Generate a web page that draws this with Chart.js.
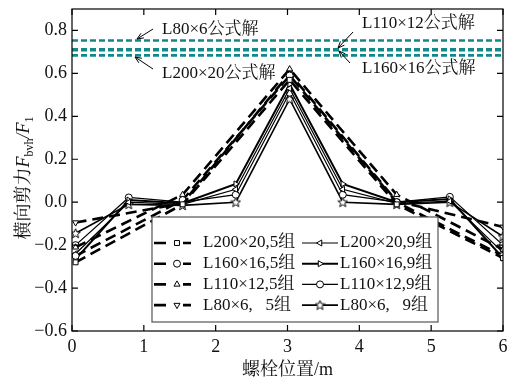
<!DOCTYPE html>
<html>
<head>
<meta charset="utf-8">
<script src="https://cdn.jsdelivr.net/npm/chart.js@4.4.0/dist/chart.umd.min.js"></script>
<style>
  html, body { margin: 0; padding: 0; background: #fff; }
  #wrap { width: 508px; height: 380px; position: relative; }
</style>
</head>
<body>
<div id="wrap"><canvas id="chart"></canvas></div>
<script>
// bolt positions (m)
const xs9 = [0.05, 0.79, 1.54, 2.28, 3.03, 3.77, 4.52, 5.26, 6.0];
const xs5 = [0.05, 1.54, 3.03, 4.52, 6.0];

// 5 groups (dashed)
const l200x20_5 = [-0.28, -0.01, 0.57, -0.01, -0.26];
const l160x16_5 = [-0.25, 0.01, 0.59, 0.0, -0.25];
const l110x12_5 = [-0.21, 0.035, 0.62, 0.035, -0.22];
const l80x6_5 = [-0.095, -0.005, 0.60, 0.005, -0.115];

// 9 groups (solid)
const l200x20_9 = [-0.24, 0.0, -0.01, 0.06, 0.53, 0.06, -0.005, 0.005, -0.235];
const l160x16_9 = [-0.265, 0.01, -0.005, 0.085, 0.55, 0.085, 0.0, 0.015, -0.26];
const l110x12_9 = [-0.2, 0.022, 0.0, 0.035, 0.51, 0.035, 0.0, 0.025, -0.2];
const l80x6_9 = [-0.145, -0.01, -0.015, 0.0, 0.48, 0.0, -0.01, 0.0, -0.16];

// formula solutions (horizontal lines)
const formulaNames = ['L80×6公式解', 'L110×12公式解', 'L160×16公式解', 'L200×20公式解'];
const formulaValues = [0.753, 0.712, 0.708, 0.684];

const xTicks = [0, 1, 2, 3, 4, 5, 6];
const yTicks = [-0.6, -0.4, -0.2, 0.0, 0.2, 0.4, 0.6, 0.8];

const FONT = "'Liberation Serif', 'Noto Serif CJK SC', 'Noto Sans CJK SC', serif";
Chart.defaults.font.family = FONT;
Chart.defaults.color = '#111';

// star marker
const starImg = document.createElement('canvas');
starImg.width = 11; starImg.height = 11;
(function () {
  const c = starImg.getContext('2d');
  c.beginPath();
  for (let i = 0; i < 10; i++) {
    const r = i % 2 === 0 ? 5 : 2.2;
    const a = -Math.PI / 2 + i * Math.PI / 5;
    const px = 5.5 + r * Math.cos(a), py = 5.8 + r * Math.sin(a);
    if (i === 0) c.moveTo(px, py); else c.lineTo(px, py);
  }
  c.closePath();
  c.fillStyle = '#fff'; c.fill();
  c.strokeStyle = '#000'; c.lineWidth = 1; c.stroke();
})();

const pts = (xs, ys) => xs.map((x, i) => ({ x: x, y: ys[i] }));

const series = [
  { label: 'L200×20,5组', xs: xs5, ys: l200x20_5, dash: true, width: 2.6, style: 'rect', rot: 0 },
  { label: 'L160×16,5组', xs: xs5, ys: l160x16_5, dash: true, width: 2.6, style: 'circle', rot: 0 },
  { label: 'L110×12,5组', xs: xs5, ys: l110x12_5, dash: true, width: 2.6, style: 'triangle', rot: 0 },
  { label: 'L80×6,   5组', xs: xs5, ys: l80x6_5, dash: true, width: 2.6, style: 'triangle', rot: 180 },
  { label: 'L200×20,9组', xs: xs9, ys: l200x20_9, dash: false, width: 1.2, style: 'triangle', rot: -90 },
  { label: 'L160×16,9组', xs: xs9, ys: l160x16_9, dash: false, width: 2.0, style: 'triangle', rot: 90 },
  { label: 'L110×12,9组', xs: xs9, ys: l110x12_9, dash: false, width: 1.2, style: 'circle', rot: 0 },
  { label: 'L80×6,   9组', xs: xs9, ys: l80x6_9, dash: false, width: 1.6, style: starImg, rot: 0 }
];

const datasets = [];
formulaValues.forEach((v, i) => {
  datasets.push({
    label: formulaNames[i],
    data: [{ x: 0, y: v }, { x: 6, y: v }],
    showLine: true,
    borderColor: '#11898a',
    borderWidth: 2.6,
    borderDash: [6, 3],
    pointRadius: 0
  });
});
series.forEach(s => {
  datasets.push({
    label: s.label,
    data: pts(s.xs, s.ys),
    showLine: true,
    borderColor: '#000',
    borderWidth: s.width,
    borderDash: s.dash ? [11, 6] : [],
    pointStyle: s.style,
    rotation: s.rot,
    pointRadius: 3.5,
    pointBackgroundColor: '#fff',
    pointBorderColor: '#000',
    pointBorderWidth: 1
  });
});

function arrow(ctx, x1, y1, x2, y2) {
  ctx.beginPath();
  ctx.moveTo(x1, y1); ctx.lineTo(x2, y2);
  const a = Math.atan2(y2 - y1, x2 - x1);
  const h = 7;
  ctx.moveTo(x2, y2); ctx.lineTo(x2 - h * Math.cos(a - 0.4), y2 - h * Math.sin(a - 0.4));
  ctx.moveTo(x2, y2); ctx.lineTo(x2 - h * Math.cos(a + 0.4), y2 - h * Math.sin(a + 0.4));
  ctx.stroke();
}

const decor = {
  id: 'decor',
  afterDraw(chart) {
    const ctx = chart.ctx;
    const a = chart.chartArea;
    const xs = chart.scales.x, ys = chart.scales.y;
    ctx.save();
    // frame
    ctx.strokeStyle = '#000'; ctx.lineWidth = 1.2; ctx.setLineDash([]);
    ctx.strokeRect(a.left, a.top, a.right - a.left, a.bottom - a.top);
    // inward ticks on all sides
    ctx.beginPath();
    xTicks.forEach(t => {
      const px = xs.getPixelForValue(t);
      ctx.moveTo(px, a.bottom); ctx.lineTo(px, a.bottom - 6);
      ctx.moveTo(px, a.top); ctx.lineTo(px, a.top + 6);
    });
    yTicks.forEach(t => {
      const py = ys.getPixelForValue(t);
      ctx.moveTo(a.left, py); ctx.lineTo(a.left + 6, py);
      ctx.moveTo(a.right, py); ctx.lineTo(a.right - 6, py);
    });
    ctx.stroke();

    // x title
    ctx.fillStyle = '#111';
    ctx.font = '18px ' + FONT;
    ctx.textAlign = 'center'; ctx.textBaseline = 'middle';
    ctx.fillText('螺栓位置/m', (a.left + a.right) / 2, 370);

    // y title with subscripts
    ctx.save();
    ctx.translate(23, 178);
    ctx.rotate(-Math.PI / 2);
    const parts = [
      { t: '横向剪力', f: '18px ' + FONT, dy: 0 },
      { t: 'F', f: 'italic 18px ' + FONT, dy: 0 },
      { t: 'bvh', f: '12px ' + FONT, dy: 4 },
      { t: '/', f: 'italic 18px ' + FONT, dy: 0 },
      { t: 'F', f: 'italic 18px ' + FONT, dy: 0 },
      { t: '1', f: '12px ' + FONT, dy: 4 }
    ];
    let total = 0;
    parts.forEach(p => { ctx.font = p.f; p.w = ctx.measureText(p.t).width; total += p.w; });
    let cx = -total / 2;
    ctx.textAlign = 'left'; ctx.textBaseline = 'alphabetic';
    parts.forEach(p => { ctx.font = p.f; ctx.fillText(p.t, cx, 6 + p.dy); cx += p.w; });
    ctx.restore();

    // formula annotations
    ctx.font = '17px ' + FONT;
    ctx.textAlign = 'left'; ctx.textBaseline = 'middle';
    ctx.fillText(formulaNames[0], 162, 30);
    ctx.fillText(formulaNames[3], 162, 74);
    ctx.fillText(formulaNames[1], 362, 24);
    ctx.fillText(formulaNames[2], 362, 69);
    ctx.strokeStyle = '#000'; ctx.lineWidth = 1;
    arrow(ctx, 153, 29, 137, 39);
    arrow(ctx, 153, 69, 135, 57);
    arrow(ctx, 353, 32, 338, 48);
    arrow(ctx, 350, 63, 339, 51);

    // legend
    const bx = 152, by = 217, bw = 286, bh = 105;
    ctx.fillStyle = '#fff';
    ctx.fillRect(bx, by, bw, bh);
    ctx.strokeStyle = '#555'; ctx.lineWidth = 1.2;
    ctx.strokeRect(bx, by, bw, bh);
    ctx.font = '17px ' + FONT;
    ctx.textBaseline = 'middle'; ctx.textAlign = 'left';
    series.forEach((s, i) => {
      const col = i < 4 ? 0 : 1;
      const row = i % 4;
      const y = 243 + row * 20.7;
      ctx.strokeStyle = '#000';
      ctx.lineWidth = s.width;
      ctx.beginPath();
      let mx;
      if (col === 0) {
        ctx.moveTo(154, y); ctx.lineTo(166, y);
        ctx.moveTo(183, y); ctx.lineTo(191, y);
        mx = 177;
      } else {
        ctx.moveTo(302, y); ctx.lineTo(338, y);
        mx = 320;
      }
      ctx.stroke();
      ctx.fillStyle = '#fff'; ctx.strokeStyle = '#000'; ctx.lineWidth = 1;
      Chart.helpers.drawPoint(ctx, { pointStyle: s.style, rotation: s.rot, radius: 3.5, borderWidth: 1 }, mx, y);
      ctx.fillStyle = '#111';
      ctx.fillText(s.label, col === 0 ? 203 : 340, y);
    });
    ctx.restore();
  }
};

new Chart(document.getElementById('chart'), {
  type: 'scatter',
  data: { datasets: datasets },
  options: {
    responsive: true,
    maintainAspectRatio: false,
    animation: false,
    layout: { padding: { top: 9, right: 3, left: 0, bottom: 0 } },
    plugins: { legend: { display: false }, tooltip: { enabled: false } },
    scales: {
      x: {
        type: 'linear', min: 0, max: 6,
        afterFit: s => { s.height = 49; s.paddingLeft = 0; s.paddingRight = 0; },
        afterBuildTicks: s => { s.ticks = xTicks.map(v => ({ value: v })); },
        grid: { display: false, drawTicks: false },
        border: { display: false },
        ticks: { font: { size: 18 }, padding: 5, maxRotation: 0, callback: v => String(v) }
      },
      y: {
        type: 'linear', min: -0.6, max: 0.9,
        afterFit: s => { s.width = 72; s.paddingTop = 0; s.paddingBottom = 0; },
        afterBuildTicks: s => { s.ticks = yTicks.map(v => ({ value: v })); },
        grid: { display: false, drawTicks: false },
        border: { display: false },
        ticks: {
          font: { size: 18 }, padding: 5,
          callback: v => (v < 0 ? '\u2212' : '') + Math.abs(v).toFixed(1)
        }
      }
    }
  },
  plugins: [decor]
});
</script>
</body>
</html>
